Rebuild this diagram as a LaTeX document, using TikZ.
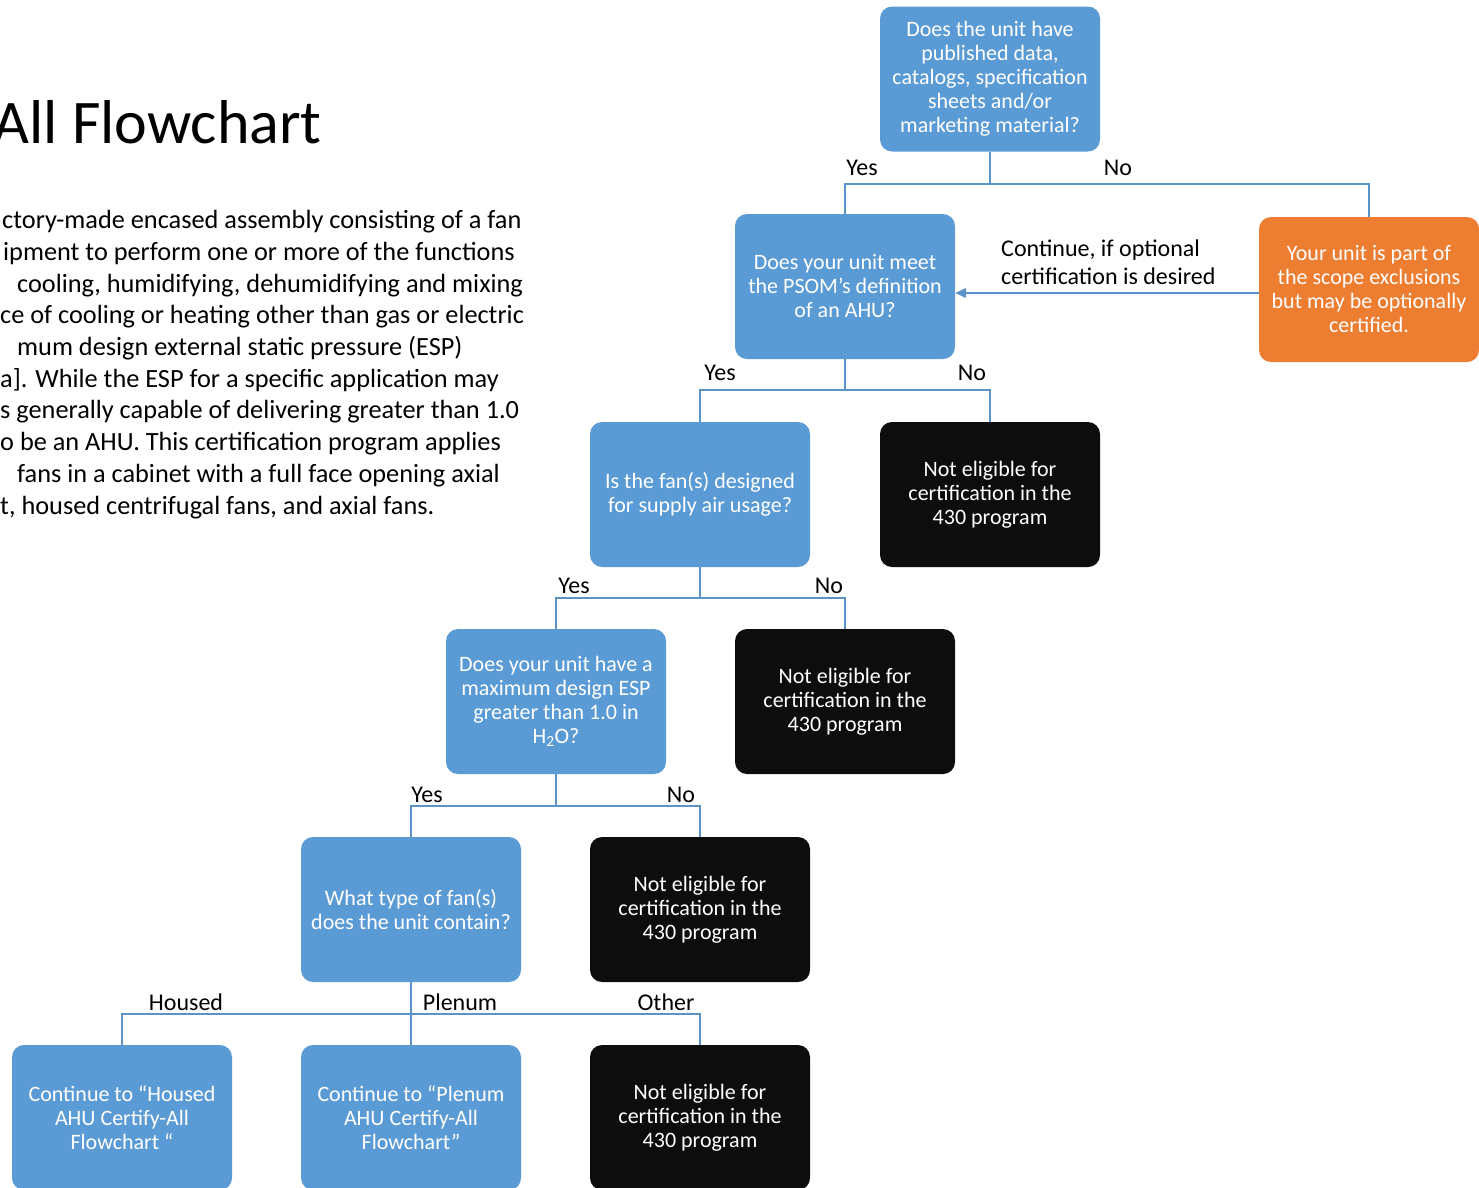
\documentclass[tikz,border=0pt]{standalone}
\usepackage{fontspec}
\setmainfont{Carlito}
\usetikzlibrary{arrows.meta}
\definecolor{boxblue}{HTML}{5B9BD5}
\definecolor{boxorange}{HTML}{ED7D31}
\definecolor{boxblack}{HTML}{0D0D0D}
\definecolor{lineblue}{HTML}{5B93C9}
\tikzset{
  card/.style={rounded corners=12pt, minimum width=220pt, minimum height=145pt, inner sep=0pt,
    align=center, text=white, font=\fontsize{22}{24}\selectfont},
  qbox/.style={card, fill=boxblue},
  obox/.style={card, fill=boxorange},
  nbox/.style={card, fill=boxblack},
  conn/.style={draw=lineblue, line width=1.8pt},
  lbl/.style={font=\fontsize{24}{28}\selectfont, inner sep=0pt},
  body/.style={font=\fontsize{26.3}{30}\selectfont, anchor=base west, inner sep=0pt}
}
\begin{document}
\begin{tikzpicture}[x=1pt,y=-1pt]
\useasboundingbox (0,0) rectangle (1479,1187);
\clip (0,0) rectangle (1479,1187);
% title and body text
\node[font=\fontsize{62}{70}\selectfont, anchor=base east, inner sep=0pt] (title) at (322,143) {All Flowchart};
\node[body] (t1) at (2,228) {ctory-made encased assembly consisting of a fan};
\node[body] (t2) at (3,260) {ipment to perform one or more of the functions};
\node[body] (t3) at (17,292) {cooling, humidifying, dehumidifying and mixing};
\node[body] (t4) at (0,323) {ce of cooling or heating other than gas or electric};
\node[body] (t5) at (17,355) {mum design external static pressure (ESP)};
\node[body] (t6) at (0,387) {a]. While the ESP for a specific application may};
\node[body] (t7) at (0,418) {s generally capable of delivering greater than 1.0};
\node[body] (t8) at (0,450) {o be an AHU. This certification program applies};
\node[body] (t9) at (17,482) {fans in a cabinet with a full face opening axial};
\node[body] (t10) at (0,514) {t, housed centrifugal fans, and axial fans.};
% boxes
\node[qbox] (q1) at (990,79) {Does the unit have\\published data,\\catalogs, specification\\sheets and/or\\marketing material?};
\node[qbox] (q2) at (845,286.5) {Does your unit meet\\the PSOM’s definition\\of an AHU?};
\node[obox] (ex) at (1369,289.5) {Your unit is part of\\the scope exclusions\\but may be optionally\\certified.};
\node[qbox] (q3) at (700,494.5) {Is the fan(s) designed\\for supply air usage?};
\node[nbox] (n1) at (990,494.5) {Not eligible for\\certification in the\\430 program};
\node[qbox] (q4) at (556,701.5) {Does your unit have a\\maximum design ESP\\greater than 1.0 in\\H\textsubscript{2}O?};
\node[nbox] (n2) at (845,701.5) {Not eligible for\\certification in the\\430 program};
\node[qbox] (q5) at (411,909.5) {What type of fan(s)\\does the unit contain?};
\node[nbox] (n3) at (700,909.5) {Not eligible for\\certification in the\\430 program};
\node[qbox] (h) at (122,1117.5) {Continue to “Housed\\AHU Certify-All\\Flowchart “};
\node[qbox] (p) at (411,1117.5) {Continue to “Plenum\\AHU Certify-All\\Flowchart”};
\node[nbox] (n4) at (700,1117.5) {Not eligible for\\certification in the\\430 program};
% connectors
\draw[conn] (q1.south) -- ++(0,32) -| (q2.north);
\draw[conn] (q1.south) ++(0,32) -| (ex.north);
\draw[conn] (q2.south) -- ++(0,31) -| (q3.north);
\draw[conn] (q2.south) ++(0,31) -| (n1.north);
\draw[conn] (q3.south) -- ++(0,31) -| (q4.north);
\draw[conn] (q3.south) ++(0,31) -| (n2.north);
\draw[conn] (q4.south) -- ++(0,32) -| (q5.north);
\draw[conn] (q4.south) ++(0,32) -| (n3.north);
\draw[conn] (q5.south) -- ++(0,32) -| (h.north);
\draw[conn] (q5.south) -- (p.north);
\draw[conn] (q5.south) ++(0,32) -| (n4.north);
\draw[draw=lineblue, line width=1.2pt, -{Triangle[length=11pt,width=10pt]}] (ex.west |- 0,293) -- (q2.east |- 0,293);
% labels
\node[lbl] (l1) at (862,168) {Yes};
\node[lbl] (l2) at (1118,168) {No};
\node[lbl] (l3) at (720,373) {Yes};
\node[lbl] (l4) at (972,373) {No};
\node[lbl] (l5) at (574,586) {Yes};
\node[lbl] (l6) at (829,586) {No};
\node[lbl] (l7) at (427,795) {Yes};
\node[lbl] (l8) at (681,795) {No};
\node[lbl] (l9) at (186,1002) {Housed};
\node[lbl] (l10) at (460,1002) {Plenum};
\node[lbl] (l11) at (666,1002) {Other};
\node[lbl, align=left, anchor=west, font=\fontsize{24}{28}\selectfont] (cont) at (1001,262) {Continue, if optional\\certification is desired};
\end{tikzpicture}
\end{document}
